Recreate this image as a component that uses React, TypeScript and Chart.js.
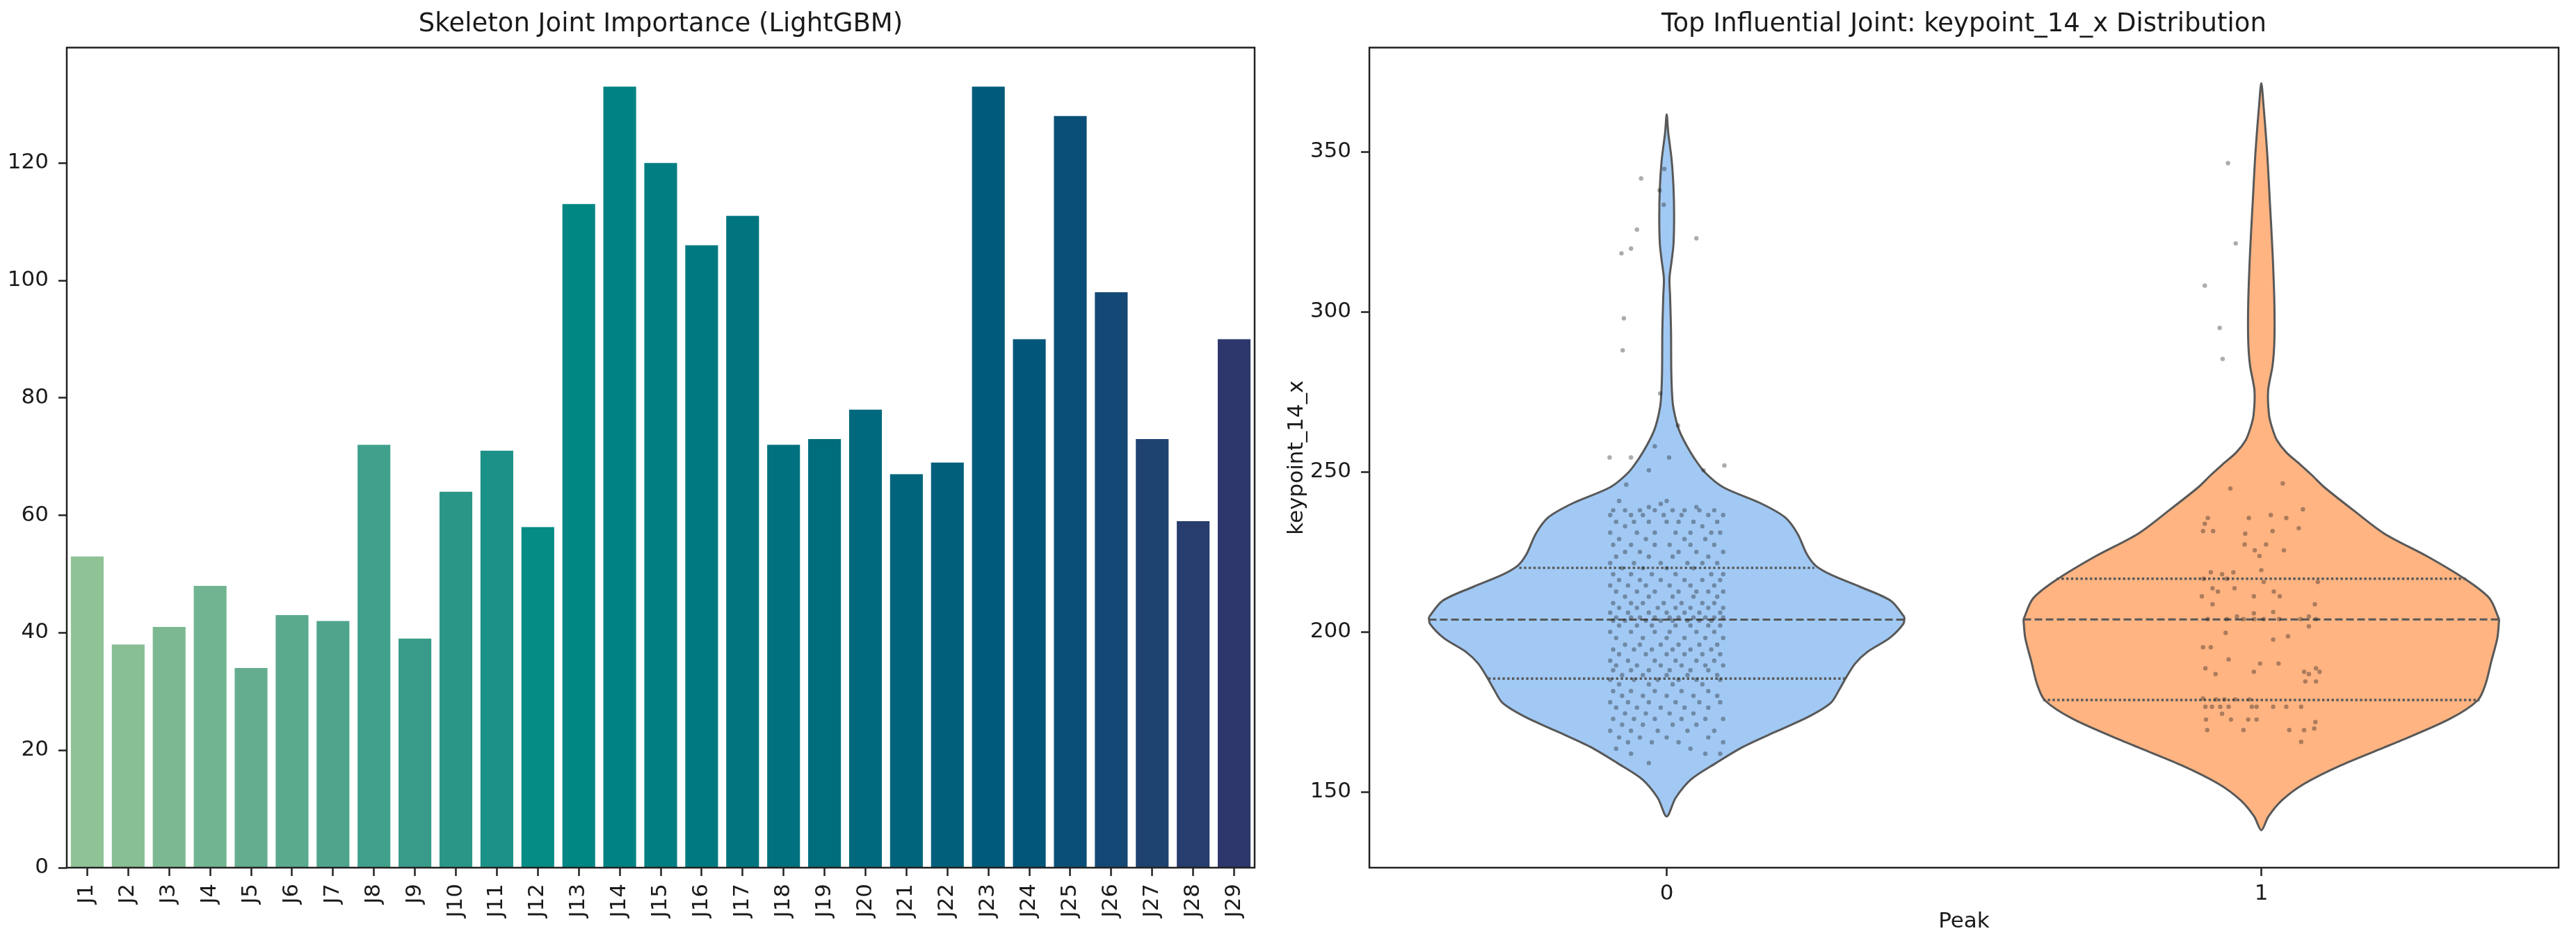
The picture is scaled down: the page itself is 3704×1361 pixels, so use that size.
import { useEffect, useRef } from "react"
import { Chart, registerables } from "chart.js"

Chart.register(...registerables)

Chart.defaults.font.family = "'DejaVu Sans', sans-serif"

const ink = "#1a1a1a"

// ---- left chart: joint importance ----
const joints = [
  "J1", "J2", "J3", "J4", "J5", "J6", "J7", "J8", "J9", "J10",
  "J11", "J12", "J13", "J14", "J15", "J16", "J17", "J18", "J19", "J20",
  "J21", "J22", "J23", "J24", "J25", "J26", "J27", "J28", "J29",
]
const importance = [
  53, 38, 41, 48, 34, 43, 42, 72, 39, 64,
  71, 58, 113, 133, 120, 106, 111, 72, 73, 78,
  67, 69, 133, 90, 128, 98, 73, 59, 90,
]
const importanceTicks = [0, 20, 40, 60, 80, 100, 120]
const importanceMax = 139.65

// crest-like palette, one colour per joint
const jointColors = [
  "#8fc396", "#88bf94", "#7cb992", "#71b491", "#64ae8f", "#5aaa8e", "#4fa48c", "#40a08b",
  "#389b8a", "#2a9688", "#1c9187", "#058c84", "#008683", "#008282", "#007e81", "#007a80",
  "#00757f", "#00717e", "#006d7d", "#00697d", "#00657c", "#00607c", "#005b7b", "#02567a",
  "#0a4f78", "#154975", "#1f4371", "#273d6e", "#2d376b",
]

// ---- right chart: keypoint_14_x by Peak ----
const peakGroups = [0, 1]
const peakYTicks = [150, 200, 250, 300, 350]
const peakYMin = 126.3
const peakYMax = 382.6

// violin outlines: value and half width (category units), bottom to top
const violin0Values = [
  142.3, 148.1, 153.9, 159.0, 164.1, 169.1, 173.5, 177.8, 182.2, 185.8, 190.1, 193.8, 198.1,
  202.5, 204.6, 209.7, 214.1, 217.7, 220.6, 224.2, 230.7, 235.8, 240.2, 245.2, 249.7, 254.1,
  258.4, 263.0, 267.5, 272.0, 281.0, 294.0, 305.0, 310.5, 316.0, 321.3, 330.0, 338.7, 347.4,
  356.1, 361.7,
]
const violin0Widths = [
  0, 0.015, 0.041, 0.083, 0.129, 0.187, 0.239, 0.276, 0.291, 0.302, 0.317, 0.338, 0.375,
  0.398, 0.4, 0.377, 0.325, 0.278, 0.251, 0.236, 0.22, 0.199, 0.158, 0.095, 0.065, 0.047,
  0.033, 0.021, 0.014, 0.0099, 0.0078, 0.0073, 0.0057, 0.0047, 0.0084, 0.0115, 0.0125, 0.0115, 0.0084,
  0.0026, 0,
]
const violin1Values = [
  138.0, 142.3, 147.4, 152.5, 158.3, 165.5, 172.8, 178.6, 183.6, 190.9, 198.1, 203.9, 210.4,
  216.2, 223.5, 230.7, 238.0, 245.2, 249.0, 252.2, 256.1, 260.0, 263.9, 267.8, 275.4, 283.3,
  291.0, 302.6, 318.2, 333.7, 349.3, 364.8, 371.5,
]
const violin1Widths = [
  0, 0.012, 0.035, 0.072, 0.134, 0.228, 0.317, 0.364, 0.377, 0.387, 0.397, 0.4, 0.384,
  0.345, 0.28, 0.207, 0.155, 0.106, 0.085, 0.066, 0.042, 0.026, 0.018, 0.013, 0.0115, 0.019,
  0.022, 0.022, 0.019, 0.0146, 0.01, 0.0036, 0,
]

// inner quartiles [q1, median, q3] and the violin half width there
const quart0 = [185.4, 203.8, 220.0]
const quart0Widths = [0.3, 0.4, 0.248]
const quart1 = [178.7, 203.9, 216.6]
const quart1Widths = [0.367, 0.4, 0.344]

// strip points: [value, jitter offsets]
const strip0Rows: [number, number[]][] = [
  [344.7, [-0.004]], [341.7, [-0.043]], [338.0, [-0.012]], [333.5, [-0.005]],
  [325.7, [-0.05]], [323.0, [0.05]], [319.8, [-0.06]], [318.3, [-0.076]],
  [298.0, [-0.072]], [288.0, [-0.074]], [274.5, [-0.011]], [264.5, [0.019]],
  [258.0, [-0.02]], [254.5, [-0.096, -0.06, 0.004]], [252.0, [0.097]],
  [250.5, [-0.03, 0.062]], [246.0, [-0.068]], [240.0, [-0.01]],
  [240.9, [-0.08, 0.0]],
  [239.0, [-0.03, 0.05]],
  [238.0, [-0.09, -0.07, -0.045, -0.02, 0.01, 0.03, 0.055, 0.08]],
  [236.5, [-0.095, -0.06, -0.04, -0.005, 0.025, 0.07, 0.095]],
  [234.4, [-0.085, -0.055, -0.03, 0.0, 0.02, 0.045, 0.085]],
  [233.0, [-0.07, 0.06]],
  [231.0, [-0.095, -0.05, -0.02, 0.015, 0.04, 0.075, 0.09]],
  [229.0, [-0.08, -0.035, 0.03, 0.065]],
  [227.2, [-0.09, -0.06, -0.02, 0.005, 0.04, 0.08]],
  [225.0, [-0.07, -0.045, 0.02, 0.05, 0.095]],
  [223.5, [-0.085, -0.03, 0.01, 0.07]],
  [221.5, [-0.095, -0.055, -0.01, 0.035, 0.06, 0.085]],
  [219.9, [-0.075, -0.04, 0.0, 0.045]],
  [218.0, [-0.09, -0.06, -0.025, 0.015, 0.075, 0.095]],
  [216.2, [-0.08, -0.045, -0.01, 0.03, 0.06, 0.09]],
  [214.5, [-0.095, -0.065, -0.035, 0.005, 0.04, 0.08]],
  [212.6, [-0.085, -0.05, -0.02, 0.02, 0.05, 0.07, 0.095]],
  [211.0, [-0.07, -0.03, 0.01, 0.045, 0.085]],
  [209.0, [-0.09, -0.06, -0.04, -0.005, 0.025, 0.06, 0.08]],
  [207.5, [-0.08, -0.05, -0.015, 0.015, 0.04, 0.07, 0.095]],
  [206.0, [-0.095, -0.065, -0.03, 0.0, 0.03, 0.055, 0.09]],
  [204.5, [-0.085, -0.06, -0.045, -0.02, 0.005, 0.02, 0.045, 0.065, 0.08, 0.095]],
  [203.5, [-0.09, -0.07, -0.035, -0.01, 0.01, 0.035, 0.055, 0.075]],
  [202.0, [-0.08, -0.05, -0.025, 0.015, 0.04, 0.07, 0.09]],
  [200.0, [-0.095, -0.06, -0.02, 0.005, 0.05, 0.08]],
  [198.1, [-0.085, -0.04, 0.0, 0.03, 0.065, 0.095]],
  [196.0, [-0.07, -0.045, -0.01, 0.02, 0.055, 0.085]],
  [194.5, [-0.09, -0.055, -0.025, 0.01, 0.04, 0.075]],
  [193.0, [-0.08, -0.035, 0.0, 0.03, 0.06, 0.09]],
  [191.0, [-0.095, -0.065, -0.02, 0.015, 0.05, 0.08]],
  [189.5, [-0.085, -0.05, -0.01, 0.025, 0.065, 0.095]],
  [188.0, [-0.09, -0.06, -0.03, 0.005, 0.04, 0.07]],
  [186.5, [-0.075, -0.04, 0.0, 0.035, 0.085]],
  [185.0, [-0.095, -0.055, -0.015, 0.02, 0.05, 0.09]],
  [183.6, [-0.08, -0.03, 0.01, 0.06]],
  [181.5, [-0.09, -0.06, -0.02, 0.025, 0.07]],
  [180.0, [-0.075, -0.04, 0.0, 0.045, 0.085]],
  [178.0, [-0.095, -0.065, -0.03, 0.015, 0.055, 0.09]],
  [176.3, [-0.085, -0.05, -0.01, 0.03, 0.07]],
  [174.5, [-0.07, -0.035, 0.005, 0.045]],
  [172.8, [-0.09, -0.055, -0.02, 0.025, 0.065, 0.095]],
  [171.0, [-0.075, -0.04, 0.01, 0.05]],
  [169.1, [-0.095, -0.06, -0.015, 0.035, 0.08]],
  [167.0, [-0.08, -0.045, 0.0, 0.07]],
  [165.5, [-0.065, -0.025, 0.02, 0.095]],
  [163.5, [-0.085, 0.04]],
  [161.9, [-0.06, 0.065, 0.09]],
  [159.0, [-0.03]],
]
const strip1Rows: [number, number[]][] = [
  [346.5, [-0.056]], [321.4, [-0.043]], [308.2, [-0.095]], [295.0, [-0.07]],
  [285.3, [-0.065]], [246.4, [0.036]], [244.8, [-0.052]],
  [238.3, [0.07]],
  [236.5, [0.016]],
  [235.6, [-0.09, -0.021, 0.042]],
  [233.8, [-0.095]],
  [232.4, [0.063]],
  [231.5, [-0.098, -0.081, 0.019]],
  [230.7, [-0.027]],
  [227.3, [-0.028, 0.008]],
  [225.5, [-0.011, 0.038]],
  [223.7, [-0.003]],
  [219.3, [0.0]],
  [218.6, [-0.085, -0.047]],
  [218.0, [-0.066]],
  [216.6, [-0.097, -0.058]],
  [215.6, [0.004, 0.095]],
  [213.6, [-0.082, -0.045]],
  [212.6, [-0.073, 0.021]],
  [211.1, [-0.1, -0.0125, 0.031]],
  [208.6, [-0.082, 0.09]],
  [206.2, [0.02]],
  [205.8, [-0.0125]],
  [204.8, [-0.041, 0.08]],
  [204.0, [-0.09, -0.058, -0.03, -0.012, 0.004, 0.03, 0.066, 0.092]],
  [201.7, [0.08]],
  [199.7, [-0.06]],
  [198.6, [0.045]],
  [197.6, [0.02]],
  [195.2, [-0.098, -0.085]],
  [191.4, [-0.055]],
  [190.1, [-0.002, 0.029]],
  [188.6, [-0.094, 0.092]],
  [187.5, [-0.0125, 0.072, 0.098]],
  [186.8, [-0.077, 0.08]],
  [184.5, [0.074, 0.092]],
  [179.2, [-0.098]],
  [178.9, [-0.076, -0.062, -0.044, -0.02]],
  [176.6, [-0.094, -0.083, -0.069, -0.055, -0.016, -0.008, 0.02, 0.042, 0.067]],
  [174.4, [-0.066]],
  [172.6, [-0.093, -0.051, -0.022, -0.008]],
  [171.8, [0.091]],
  [169.8, [0.089]],
  [169.3, [-0.091, -0.03, 0.047, 0.072]],
  [165.6, [0.067]],
]

// draws the full axes box (matplotlib spines)
const framePlugin = {
  id: "frame",
  afterDatasetsDraw(chart: Chart) {
    const { ctx, chartArea: a } = chart
    ctx.save()
    ctx.strokeStyle = "#222"
    ctx.lineWidth = 2.5
    ctx.strokeRect(a.left, a.top, a.right - a.left, a.bottom - a.top)
    ctx.restore()
  },
}

const tickGrid = {
  display: true,
  drawOnChartArea: false,
  drawTicks: true,
  tickLength: 12,
  tickWidth: 2.5,
  tickColor: "#222",
  offset: false,
}

function stripPoints(center: number, rows: [number, number[]][]) {
  const pts: { x: number; y: number }[] = []
  rows.forEach(([v, offs]) => offs.forEach((o) => pts.push({ x: center + o, y: v })))
  return pts
}

// two halves meeting at the widest point, so each half's fill is closed by a straight line across it
function violinHalves(center: number, values: number[], widths: number[]) {
  let m = 0
  widths.forEach((w, i) => {
    if (w > widths[m]) m = i
  })
  const last = values.length - 1
  const lower: { x: number; y: number }[] = []
  for (let i = m; i >= 0; i--) lower.push({ x: center - widths[i], y: values[i] })
  for (let i = 1; i <= m; i++) lower.push({ x: center + widths[i], y: values[i] })
  const upper: { x: number; y: number }[] = []
  for (let i = m; i <= last; i++) upper.push({ x: center - widths[i], y: values[i] })
  for (let i = last - 1; i >= m; i--) upper.push({ x: center + widths[i], y: values[i] })
  return [lower, upper]
}

function ImportanceChart() {
  const chartRef = useRef<HTMLCanvasElement>(null)
  const chartInstance = useRef<Chart | null>(null)

  useEffect(() => {
    if (!chartRef.current) return
    if (chartInstance.current) chartInstance.current.destroy()

    chartInstance.current = new Chart(chartRef.current, {
      type: "bar",
      data: {
        labels: joints,
        datasets: [
          {
            data: importance,
            backgroundColor: jointColors,
            borderWidth: 0,
            barPercentage: 0.8,
            categoryPercentage: 1,
          },
        ],
      },
      options: {
        animation: false,
        responsive: false,
        devicePixelRatio: 1,
        events: [],
        layout: { padding: { left: 0, right: 36, top: 0, bottom: 0 } },
        plugins: {
          legend: { display: false },
          tooltip: { enabled: false },
          title: {
            display: true,
            text: "Skeleton Joint Importance (LightGBM)",
            color: ink,
            font: { size: 37, weight: "normal" },
            padding: { top: 13, bottom: 11 },
            fullSize: false,
          },
        },
        scales: {
          x: {
            grid: tickGrid,
            border: { display: false },
            ticks: {
              autoSkip: false,
              minRotation: 90,
              maxRotation: 90,
              padding: 11,
              color: ink,
              font: { size: 31 },
            },
            afterFit: (s: any) => {
              s.height = 114
            },
          },
          y: {
            min: 0,
            max: importanceMax,
            grid: tickGrid,
            border: { display: false },
            ticks: { padding: 14, color: ink, font: { size: 31 } },
            afterBuildTicks: (s: any) => {
              s.ticks = importanceTicks.map((v) => ({ value: v }))
            },
            afterFit: (s: any) => {
              s.width = 96
            },
          },
        },
      },
      plugins: [framePlugin],
    })

    return () => {
      if (chartInstance.current) chartInstance.current.destroy()
    }
  }, [])

  return (
    <canvas
      ref={chartRef}
      width={1840}
      height={1361}
      style={{ position: "absolute", left: 0, top: 0, width: 1840, height: 1361 }}
    />
  )
}

function ViolinChart() {
  const chartRef = useRef<HTMLCanvasElement>(null)
  const chartInstance = useRef<Chart | null>(null)

  useEffect(() => {
    if (!chartRef.current) return
    if (chartInstance.current) chartInstance.current.destroy()

    const outline = "#585858"
    const fills = ["#a1c9f4", "#ffb482"]
    const shapes = [
      violinHalves(peakGroups[0], violin0Values, violin0Widths),
      violinHalves(peakGroups[1], violin1Values, violin1Widths),
    ]
    const quarts = [
      [quart0, quart0Widths],
      [quart1, quart1Widths],
    ]

    const datasets: any[] = []

    // jittered points on top
    ;[strip0Rows, strip1Rows].forEach((rows, g) => {
      datasets.push({
        data: stripPoints(peakGroups[g], rows),
        showLine: false,
        pointRadius: 3.2,
        pointBorderWidth: 0,
        pointBackgroundColor: "rgba(25,25,25,0.36)",
        order: 0,
      })
    })

    // inner quartile lines
    quarts.forEach(([vals, ws], g) => {
      vals.forEach((v, k) => {
        datasets.push({
          data: [
            { x: peakGroups[g] - ws[k], y: v },
            { x: peakGroups[g] + ws[k], y: v },
          ],
          borderColor: outline,
          borderWidth: k === 1 ? 3 : 3.4,
          borderDash: k === 1 ? [11, 5] : [3.4, 3.4],
          pointRadius: 0,
          fill: false,
          tension: 0,
          order: 1,
        })
      })
    })

    // violin bodies
    shapes.forEach((halves, g) => {
      halves.forEach((pts) => {
        datasets.push({
          data: pts,
          borderColor: outline,
          borderWidth: 3,
          backgroundColor: fills[g],
          fill: "shape",
          pointRadius: 0,
          tension: 0.3,
          order: 2,
        })
      })
    })

    chartInstance.current = new Chart(chartRef.current, {
      type: "line",
      data: { datasets },
      options: {
        animation: false,
        responsive: false,
        devicePixelRatio: 1,
        events: [],
        layout: { padding: { left: 0, right: 25, top: 0, bottom: 0 } },
        plugins: {
          legend: { display: false },
          tooltip: { enabled: false },
          title: {
            display: true,
            text: "Top Influential Joint: keypoint_14_x Distribution",
            color: ink,
            font: { size: 37, weight: "normal" },
            padding: { top: 13, bottom: 11 },
            fullSize: false,
          },
        },
        scales: {
          x: {
            type: "linear",
            min: -0.5,
            max: 1.5,
            grid: tickGrid,
            border: { display: false },
            ticks: {
              padding: 7,
              color: ink,
              font: { size: 31 },
              callback: (v: any) => String(v),
            },
            title: {
              display: true,
              text: "Peak",
              color: ink,
              font: { size: 31 },
              padding: { top: 0, bottom: 17 },
            },
            afterBuildTicks: (s: any) => {
              s.ticks = peakGroups.map((v) => ({ value: v }))
            },
            afterFit: (s: any) => {
              s.height = 114
            },
          },
          y: {
            type: "linear",
            min: peakYMin,
            max: peakYMax,
            grid: tickGrid,
            border: { display: false },
            ticks: { padding: 14, color: ink, font: { size: 31 } },
            title: {
              display: true,
              text: "keypoint_14_x",
              color: ink,
              font: { size: 31 },
              padding: { top: 6, bottom: 0 },
            },
            afterBuildTicks: (s: any) => {
              s.ticks = peakYTicks.map((v) => ({ value: v }))
            },
            afterFit: (s: any) => {
              s.width = 129
            },
          },
        },
      },
      plugins: [framePlugin],
    })

    return () => {
      if (chartInstance.current) chartInstance.current.destroy()
    }
  }, [])

  return (
    <canvas
      ref={chartRef}
      width={1864}
      height={1361}
      style={{ position: "absolute", left: 1840, top: 0, width: 1864, height: 1361 }}
    />
  )
}

export default function App() {
  return (
    <div
      style={{
        position: "absolute",
        left: 0,
        top: 0,
        width: 3704,
        height: 1361,
        overflow: "hidden",
        background: "#ffffff",
      }}
    >
      <ImportanceChart />
      <ViolinChart />
    </div>
  )
}
